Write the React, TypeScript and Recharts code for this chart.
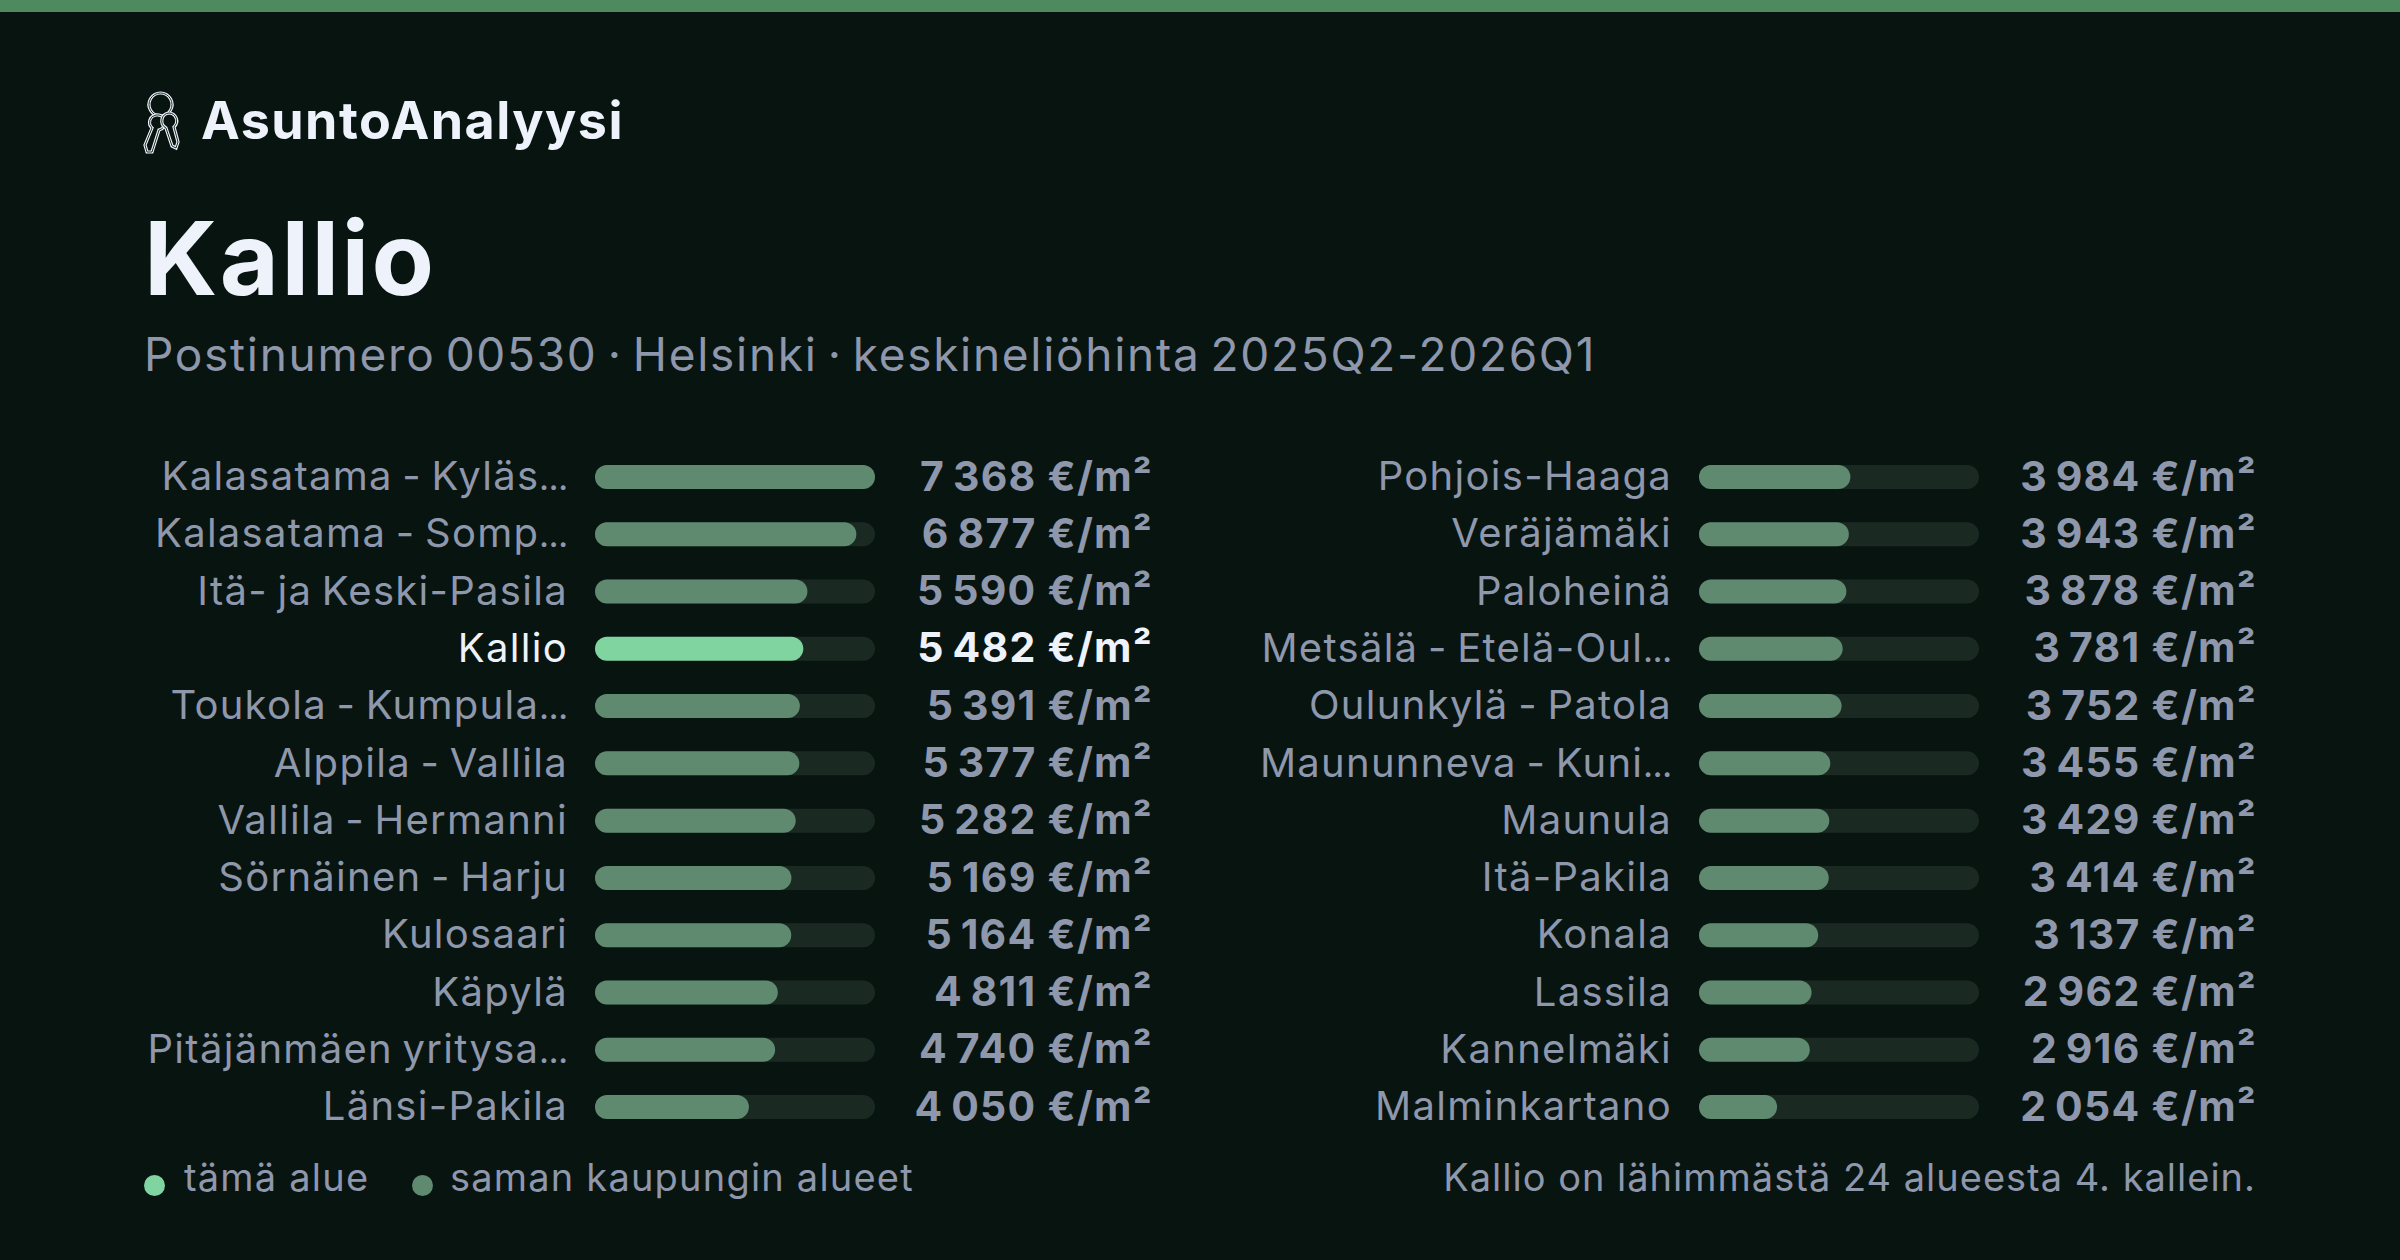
import React from 'react';
import { BarChart, Bar, XAxis, YAxis, Cell } from 'recharts';

const FONT = 'Inter, "Noto Sans", sans-serif';
const BG = '#08140f';
const GREY = '#8e97ab';
const WHITE = '#eef2fb';
const HIGHLIGHT = '#7fd4a0';
const MUTED = '#5f8a70';
const TRACK = '#1a2a23';

const leftNames = [
  'Kalasatama - Kyläs…', 'Kalasatama - Somp…', 'Itä- ja Keski-Pasila', 'Kallio',
  'Toukola - Kumpula…', 'Alppila - Vallila', 'Vallila - Hermanni', 'Sörnäinen - Harju',
  'Kulosaari', 'Käpylä', 'Pitäjänmäen yritysa…', 'Länsi-Pakila',
];
const leftValues = [7368, 6877, 5590, 5482, 5391, 5377, 5282, 5169, 5164, 4811, 4740, 4050];

const rightNames = [
  'Pohjois-Haaga', 'Veräjämäki', 'Paloheinä', 'Metsälä - Etelä-Oul…',
  'Oulunkylä - Patola', 'Maununneva - Kuni…', 'Maunula', 'Itä-Pakila',
  'Konala', 'Lassila', 'Kannelmäki', 'Malminkartano',
];
const rightValues = [3984, 3943, 3878, 3781, 3752, 3455, 3429, 3414, 3137, 2962, 2916, 2054];

const MAX_VALUE = 7368;
const CURRENT = 'Kallio';

const formatPrice = (v: number) => {
  const s = String(v);
  return s.slice(0, -3) + '\u202f' + s.slice(-3) + ' €/m²';
};

const NameTick = ({ x, y, payload }: any) => {
  const name: string = payload.value;
  const cut = name.endsWith('…');
  return (
    <text x={x} y={y} dy={13.5} textAnchor="end" fontFamily={FONT} fontSize={40}
      letterSpacing={1.3} style={{ wordSpacing: -3 }}
      fill={name === CURRENT ? WHITE : GREY}>
      {cut ? name.slice(0, -1) : name}
      {cut && <tspan fontSize={30} fontWeight={600} letterSpacing={0}>…</tspan>}
    </text>
  );
};

const PriceTick = ({ x, y, payload, width, current }: any) => (
  <text x={x + width + 2} y={y} dy={14} textAnchor="end" fontFamily={FONT} fontSize={41} fontWeight={700}
    letterSpacing={1.3} fill={payload.value === current ? WHITE : GREY}>{payload.value}</text>
);

const Column = ({ names, values, left }: { names: string[]; values: number[]; left: number }) => {
  const rows = names.map((name, i) => ({ name, value: values[i], price: formatPrice(values[i]) }));
  const currentPrice = rows.find(r => r.name === CURRENT)?.price;
  return (
    <div style={{ position: 'absolute', left, top: 448.4 }}>
      {/* extra right margin so the price text isn't clipped by the svg edge */}
      <BarChart width={1076} height={687.3} data={rows} layout="vertical" barSize={24}
        margin={{ top: 0, right: 20, bottom: 0, left: 0 }}>
        <XAxis type="number" domain={[0, MAX_VALUE]} hide />
        <YAxis yAxisId="names" type="category" dataKey="name" width={500} axisLine={false} tickLine={false}
          tickSize={0} tickMargin={27} interval={0} tick={<NameTick />} />
        <YAxis yAxisId="prices" orientation="right" type="category" dataKey="price" width={276} axisLine={false}
          tickLine={false} tickSize={0} tickMargin={0} interval={0}
          tick={<PriceTick width={276} current={currentPrice} />} />
        <Bar yAxisId="names" dataKey="value" isAnimationActive={false} radius={12}
          background={{ fill: TRACK, radius: 12 } as any}>
          {rows.map(r => <Cell key={r.name} fill={r.name === CURRENT ? HIGHLIGHT : MUTED} />)}
        </Bar>
      </BarChart>
    </div>
  );
};

// logo: outlined keys on a ring, each shape drawn twice for the double line
const keyShapes = [
  'M28.5 7 a11.5 11.5 0 1 0 0.01 0 Z',
  'M24 29 a7.5 7.5 0 0 0 -4 13 L13 59 L15 66 L20 66 L27 44 a7.5 7.5 0 0 0 -3 -15 Z',
  'M37 27 a8 8 0 0 0 -3 15 L40 60 L44 62 L46 56 L42 41 a8 8 0 0 0 -5 -14 Z',
];

const KeysIcon = () => (
  <svg width={60} height={70} viewBox="0 0 60 70" fill="none"
    style={{ position: 'absolute', left: 132, top: 86 }}>
    {keyShapes.map(d => (
      <g key={d}>
        <path d={d} fill={BG} stroke={WHITE} strokeWidth={3.2} />
        <path d={d} stroke={BG} strokeWidth={0.9} />
      </g>
    ))}
  </svg>
);

const text = (s: React.CSSProperties): React.CSSProperties => ({
  position: 'absolute', fontFamily: FONT, whiteSpace: 'nowrap', lineHeight: 1, ...s,
});

export default function App() {
  return (
    <div style={{ position: 'absolute', left: 0, top: 0, width: 2400, height: 1260, background: BG, overflow: 'hidden' }}>
      <div style={{ position: 'absolute', left: 0, top: 0, width: 2400, height: 12, background: '#4f8a5f' }} />
      <KeysIcon />
      <div style={text({ left: 201, top: 95, fontSize: 52, fontWeight: 700, letterSpacing: 1.45, color: WHITE })}>AsuntoAnalyysi</div>
      <div style={text({ left: 144, top: 207, fontSize: 102, fontWeight: 700, letterSpacing: 2.4, color: WHITE })}>Kallio</div>
      <div style={text({ left: 144, top: 331, fontSize: 46, letterSpacing: 1.7, wordSpacing: -4.5, color: GREY })}>Postinumero 00530 · Helsinki · keskineliöhinta 2025Q2-2026Q1</div>
      <Column names={leftNames} values={leftValues} left={95} />
      <Column names={rightNames} values={rightValues} left={1199} />
      <div style={{ position: 'absolute', left: 144, top: 1175, width: 21, height: 21, borderRadius: '50%', background: HIGHLIGHT }} />
      <div style={text({ left: 184, top: 1158, fontSize: 38, letterSpacing: 1.2, color: GREY })}>tämä alue</div>
      <div style={{ position: 'absolute', left: 412, top: 1175, width: 21, height: 21, borderRadius: '50%', background: MUTED }} />
      <div style={text({ left: 450, top: 1158, fontSize: 38, letterSpacing: 1.2, color: GREY })}>saman kaupungin alueet</div>
      <div style={text({ right: 144, top: 1158, fontSize: 38, letterSpacing: 1.0, color: GREY })}>Kallio on lähimmästä 24 alueesta 4. kallein.</div>
    </div>
  );
}
